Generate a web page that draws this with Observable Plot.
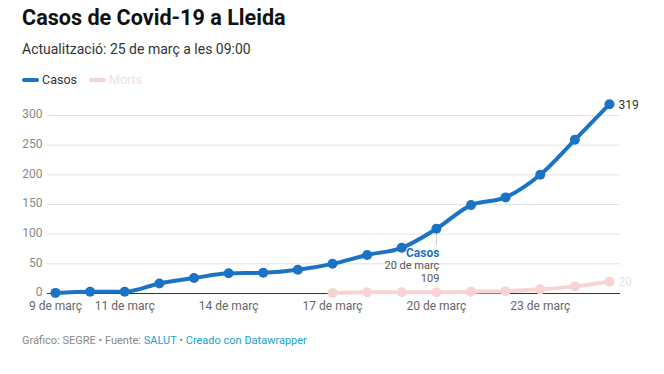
<!DOCTYPE html>
<html>
<head>
<meta charset="utf-8">
<script src="https://cdn.jsdelivr.net/npm/d3@7"></script>
<script src="https://cdn.jsdelivr.net/npm/@observablehq/plot@0.6"></script>
<style>
  html, body { margin: 0; padding: 0; background: #fff; }
  body { width: 664px; height: 374px; position: relative; font-family: Roboto, "Noto Sans", sans-serif; overflow: hidden; }
  #title { position: absolute; left: 22px; top: 5px; font-size: 21.6px; font-weight: 700; color: #111; }
  #subtitle { position: absolute; left: 22px; top: 41px; font-size: 14px; color: #333; }
  #legend { position: absolute; left: 22px; top: 72px; font-size: 12.5px; color: #333; display: flex; align-items: center; }
  .sw { display: inline-block; width: 17px; height: 4px; border-radius: 2px; margin-right: 3px; }
  .item { display: flex; align-items: center; margin-right: 12px; }
  #chart { position: absolute; left: 0; top: 95px; }
  #footer { position: absolute; left: 22px; top: 334px; font-size: 11px; color: #888; }
  #footer .lnk { color: #18a1cd; }
</style>
</head>
<body>
<div id="title">Casos de Covid-19 a Lleida</div>
<div id="subtitle">Actualització: 25 de març a les 09:00</div>
<div id="legend">
  <span class="item"><span class="sw" style="background:#1a73c4"></span>Casos</span>
  <span class="item" style="color:#f1dede"><span class="sw" style="background:#f8d5d5"></span>Morts</span>
</div>
<div id="chart"></div>
<div id="footer">Gráfico: SEGRE • Fuente: <span class="lnk">SALUT</span> • <span class="lnk">Creado con Datawrapper</span></div>
<script>
const days = [9, 10, 11, 12, 13, 14, 15, 16, 17, 18, 19, 20, 21, 22, 23, 24, 25];
const casos = [1, 3, 3, 17, 26, 34, 35, 40, 50, 65, 77, 109, 149, 162, 200, 259, 319];
const mortsDays = [17, 18, 19, 20, 21, 22, 23, 24, 25];
const morts = [1, 2, 2, 2, 3, 4, 7, 12, 20];
const tickDays = [9, 11, 14, 17, 20, 23];
const yTicks = [0, 50, 100, 150, 200, 250, 300];
const highlightDay = 20;

const date = d => new Date(Date.UTC(2020, 2, d));
const casosData = days.map((d, i) => ({date: date(d), value: casos[i]}));
const mortsData = mortsDays.map((d, i) => ({date: date(d), value: morts[i]}));
const hl = casosData.find(d => d.date.getUTCDate() === highlightDay);
const lastC = casosData[casosData.length - 1];
const lastM = mortsData[mortsData.length - 1];

const blue = "#1a73c4";
const pink = "#f8d3d3";

const chart = Plot.plot({
  width: 664,
  height: 225,
  marginLeft: 55,
  marginRight: 55,
  marginTop: 20,
  marginBottom: 27,
  style: {fontFamily: "Roboto, 'Noto Sans', sans-serif", fontSize: "12px", background: "#fff"},
  x: {type: "utc", domain: [date(9), date(25)]},
  y: {domain: [0, 300]},
  marks: [
    Plot.ruleY(yTicks.filter(t => t > 0), {stroke: "#e3e3e3", strokeWidth: 1, insetLeft: -8, insetRight: -11}),
    Plot.axisY({ticks: yTicks, tickSize: 0, tickPadding: 13, fill: "#888", fontSize: 12, label: null, dy: -1}),
    Plot.axisX({ticks: tickDays.map(date), tickSize: 0, tickPadding: 8, fill: "#666", fontSize: 12, label: null,
      tickFormat: d => `${d.getUTCDate()} de març`}),
    Plot.ruleY([0], {stroke: "#333", strokeWidth: 1, insetLeft: -8, insetRight: -11}),
    Plot.line(mortsData, {x: "date", y: "value", stroke: pink, strokeWidth: 4, curve: "monotone-x"}),
    Plot.dot(mortsData, {x: "date", y: "value", fill: pink, r: 5}),
    Plot.ruleX([hl], {x: "date", y1: "value", y2: 80, stroke: "#ccc", strokeWidth: 1}),
    Plot.line(casosData, {x: "date", y: "value", stroke: blue, strokeWidth: 4, curve: "monotone-x"}),
    Plot.dot(casosData, {x: "date", y: "value", fill: blue, r: 5}),
    Plot.text([lastC], {x: "date", y: "value", text: d => String(d.value), textAnchor: "start", dx: 9, dy: 1, fill: "#333", fontSize: 12}),
    Plot.text([lastM], {x: "date", y: "value", text: d => String(d.value), textAnchor: "start", dx: 9, dy: 1, fill: "#ece0e0", fontSize: 12}),
    Plot.text([hl], {x: "date", y: "value", text: () => "Casos", textAnchor: "end", dx: 3, dy: 24, fill: blue, fontWeight: 700, fontSize: 12}),
    Plot.text([hl], {x: "date", y: "value", text: d => `${d.date.getUTCDate()} de març`, textAnchor: "end", dx: 3, dy: 37, fill: "#555", fontSize: 11}),
    Plot.text([hl], {x: "date", y: "value", text: d => String(d.value), textAnchor: "end", dx: 3, dy: 50, fill: "#555", fontSize: 11})
  ]
});
document.getElementById("chart").appendChild(chart);
</script>
</body>
</html>
